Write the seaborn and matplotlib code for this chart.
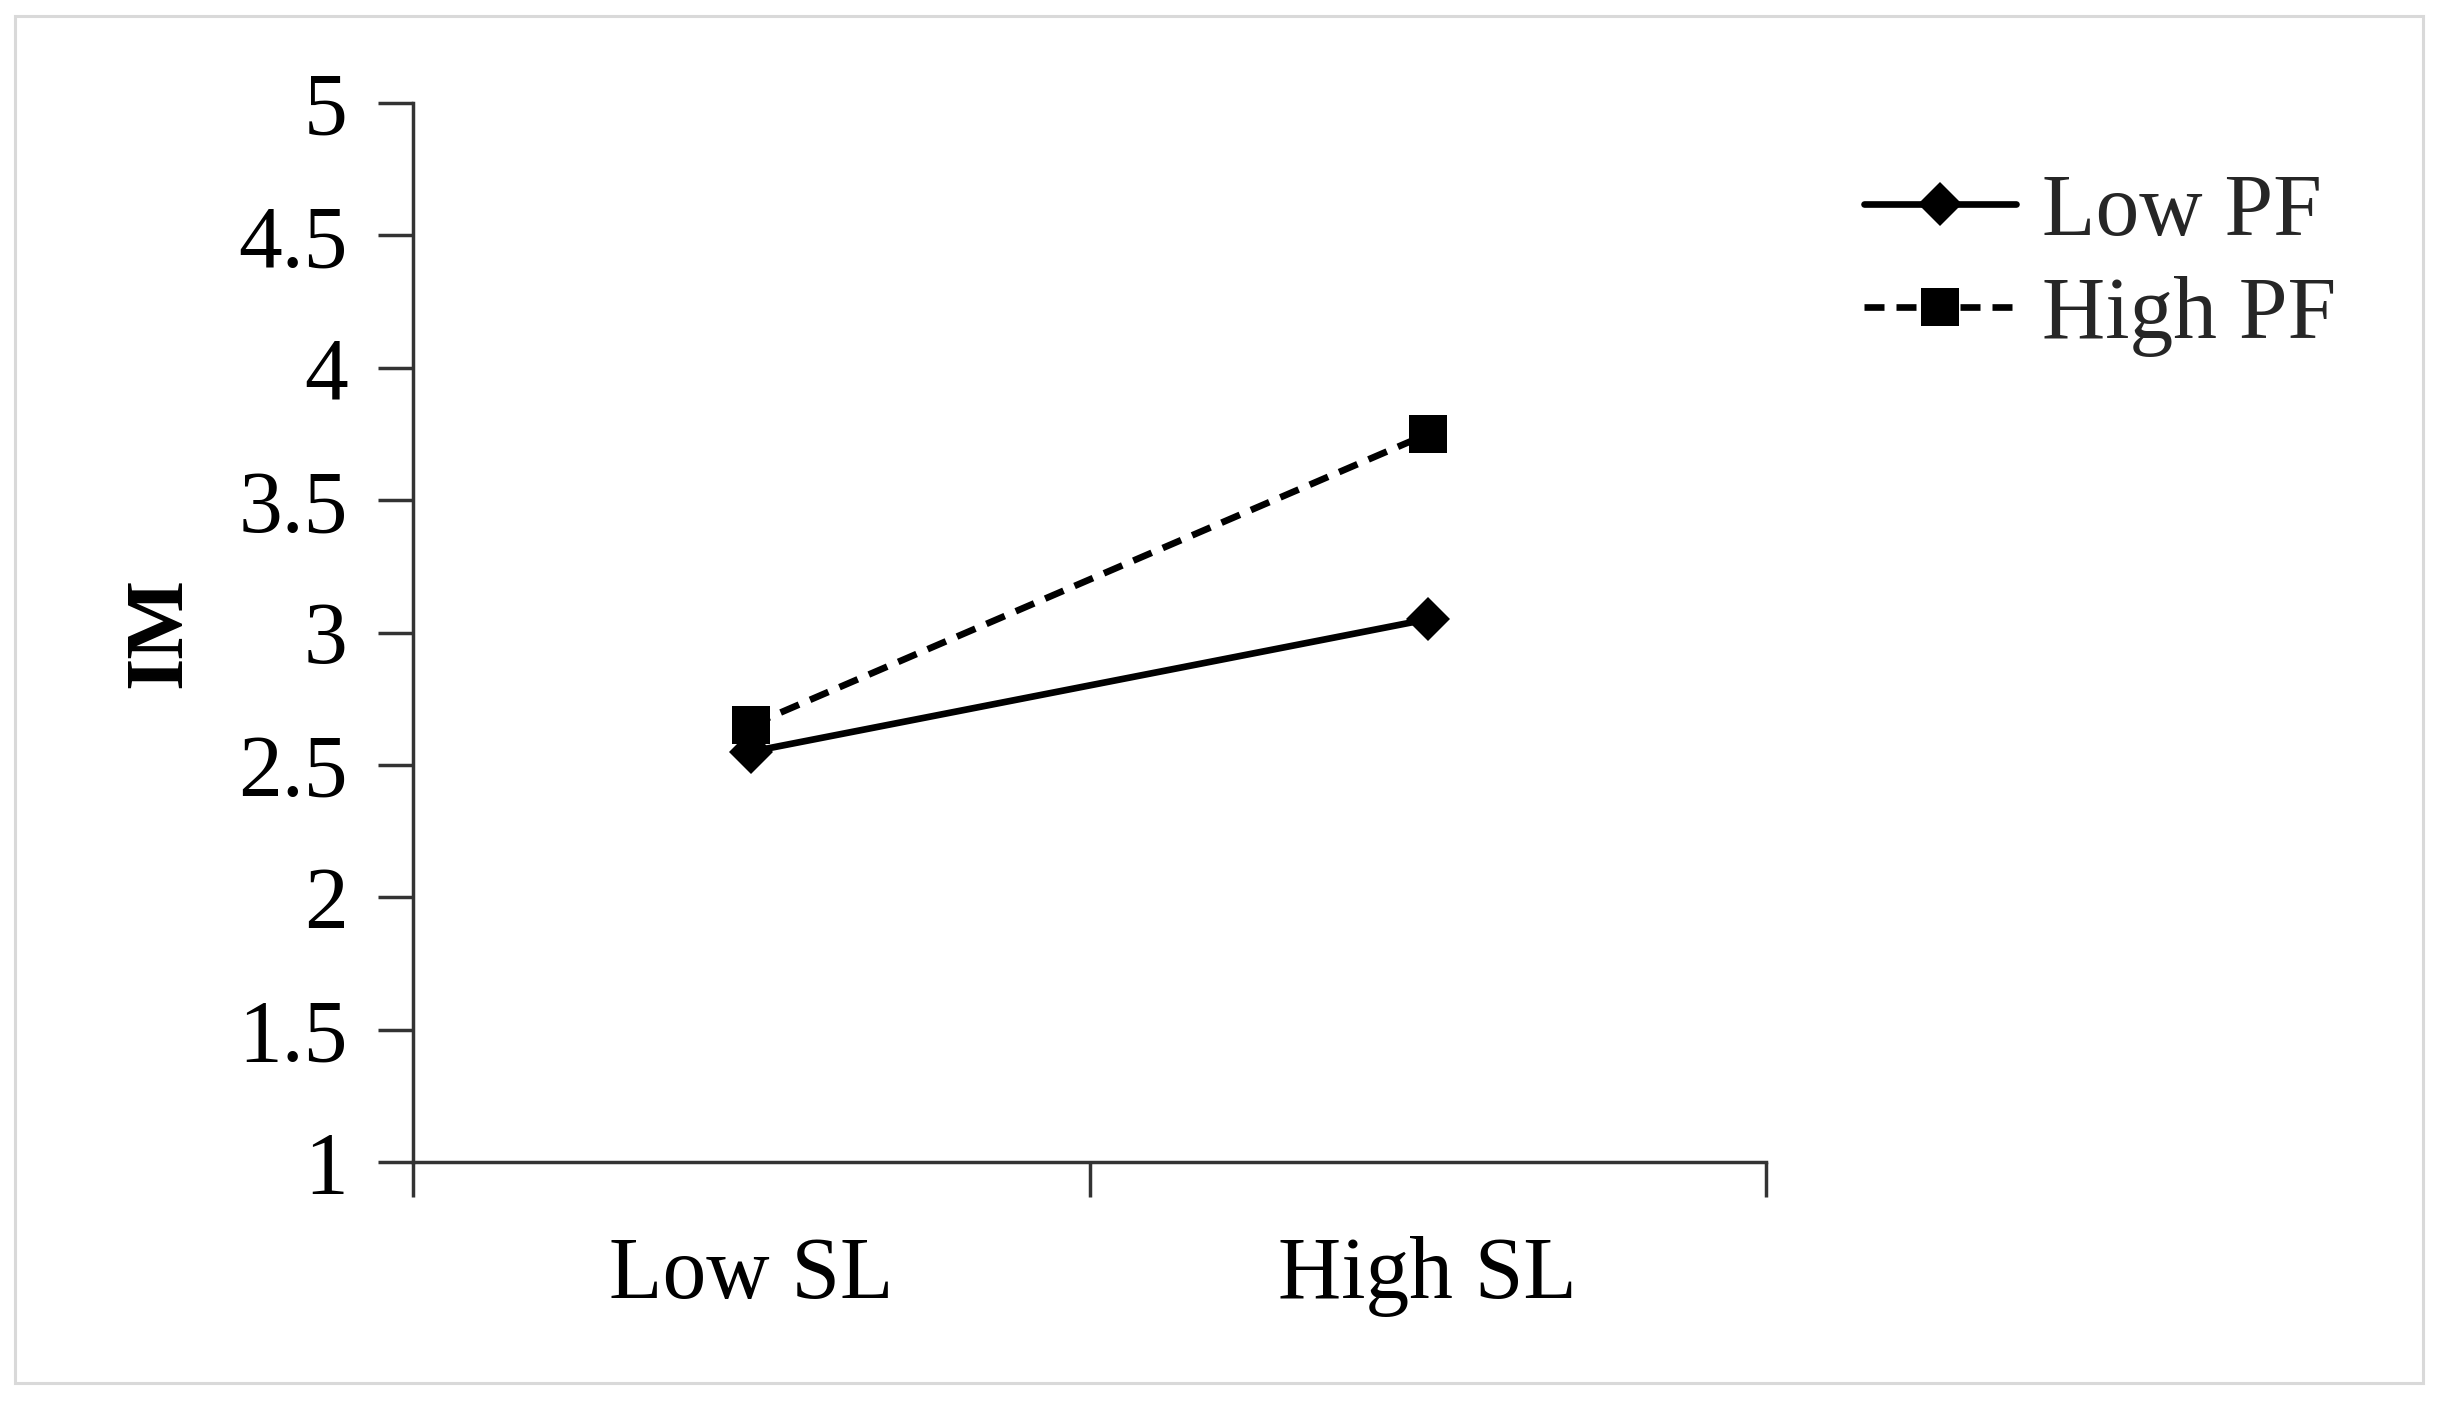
import matplotlib
matplotlib.use("Agg")
import matplotlib.pyplot as plt
import seaborn as sns
import pandas as pd
from matplotlib.patches import Rectangle

# ---- data ----
categories = ["Low SL", "High SL"]
series_names = ["Low PF", "High PF"]
low_pf = [2.55, 3.05]
high_pf = [2.65, 3.75]
y_ticks = [1, 1.5, 2, 2.5, 3, 3.5, 4, 4.5, 5]
y_tick_labels = ["1", "1.5", "2", "2.5", "3", "3.5", "4", "4.5", "5"]
y_label = "IM"

rows = []
for name, vals in zip(series_names, [low_pf, high_pf]):
    for i, (cat, v) in enumerate(zip(categories, vals)):
        rows.append({"pos": i, "SL": cat, "PF": name, "IM": v})
df = pd.DataFrame(rows)

sns.set_theme(style="white")
plt.rcParams["font.family"] = ["Liberation Serif", "DejaVu Serif"]

W, H = 2446, 1413
fig = plt.figure(figsize=(W / 100, H / 100), dpi=100)
ax = fig.add_axes([413 / W, 1 - 1162 / H, (1766 - 413) / W, (1162 - 103) / H])

sns.lineplot(
    data=df, x="pos", y="IM", hue="PF", style="PF",
    hue_order=series_names, style_order=series_names,
    palette={"Low PF": "black", "High PF": "black"},
    markers={"Low PF": "D", "High PF": "s"},
    dashes={"Low PF": "", "High PF": (3, 1.8)},
    linewidth=4.8, markeredgewidth=0, ax=ax, legend=False, sort=False,
)
msizes = {"Low PF": 22, "High PF": 28}
for line, name in zip(ax.lines, series_names):
    line.set_markersize(msizes[name])
    line.set_label(name)
    line.set_clip_on(False)

ax.set_xlim(-0.5, len(categories) - 0.5)
ax.set_ylim(1, 5)
ax.set_yticks(y_ticks)
ax.set_yticklabels(y_tick_labels)
ax.set_xticks([i - 0.5 for i in range(len(categories) + 1)])
ax.set_xticklabels([])
ax.set_xticks(list(range(len(categories))), minor=True)
ax.set_xticklabels(categories, minor=True)
ax.set_xlabel("")
ax.set_ylabel("")

spine_c = "#333333"
for s in ["top", "right"]:
    ax.spines[s].set_visible(False)
for s in ["left", "bottom"]:
    ax.spines[s].set_color(spine_c)
    ax.spines[s].set_linewidth(2.5)
ax.tick_params(axis="both", which="major", direction="out", length=25, width=2.5,
               color=spine_c, left=True, bottom=True, labelsize=63, labelcolor="black")
ax.tick_params(axis="y", which="major", pad=22)
ax.tick_params(axis="x", which="minor", length=0, pad=53, labelsize=63, labelcolor="black", bottom=True)

fig.text(161 / W, 1 - 633 / H, y_label, rotation=90, ha="center", va="center",
         fontsize=60, fontweight="bold", color="black")

handles = ax.lines[:2]
leg = fig.legend(handles=handles, labels=series_names, loc="upper left",
                 bbox_to_anchor=(1864 / W, 1 - 173 / H), frameon=False,
                 fontsize=63, handlelength=1.74, handletextpad=0.3,
                 borderpad=0, borderaxespad=0, labelspacing=0.25)

fig.patches.append(Rectangle((15 / W, 1 - 1383 / H), (2423 - 15) / W, (1383 - 16) / H,
                             transform=fig.transFigure, fill=False,
                             edgecolor="#d9d9d9", linewidth=2.2))

fig.savefig("out.png", dpi=100, facecolor="white")
